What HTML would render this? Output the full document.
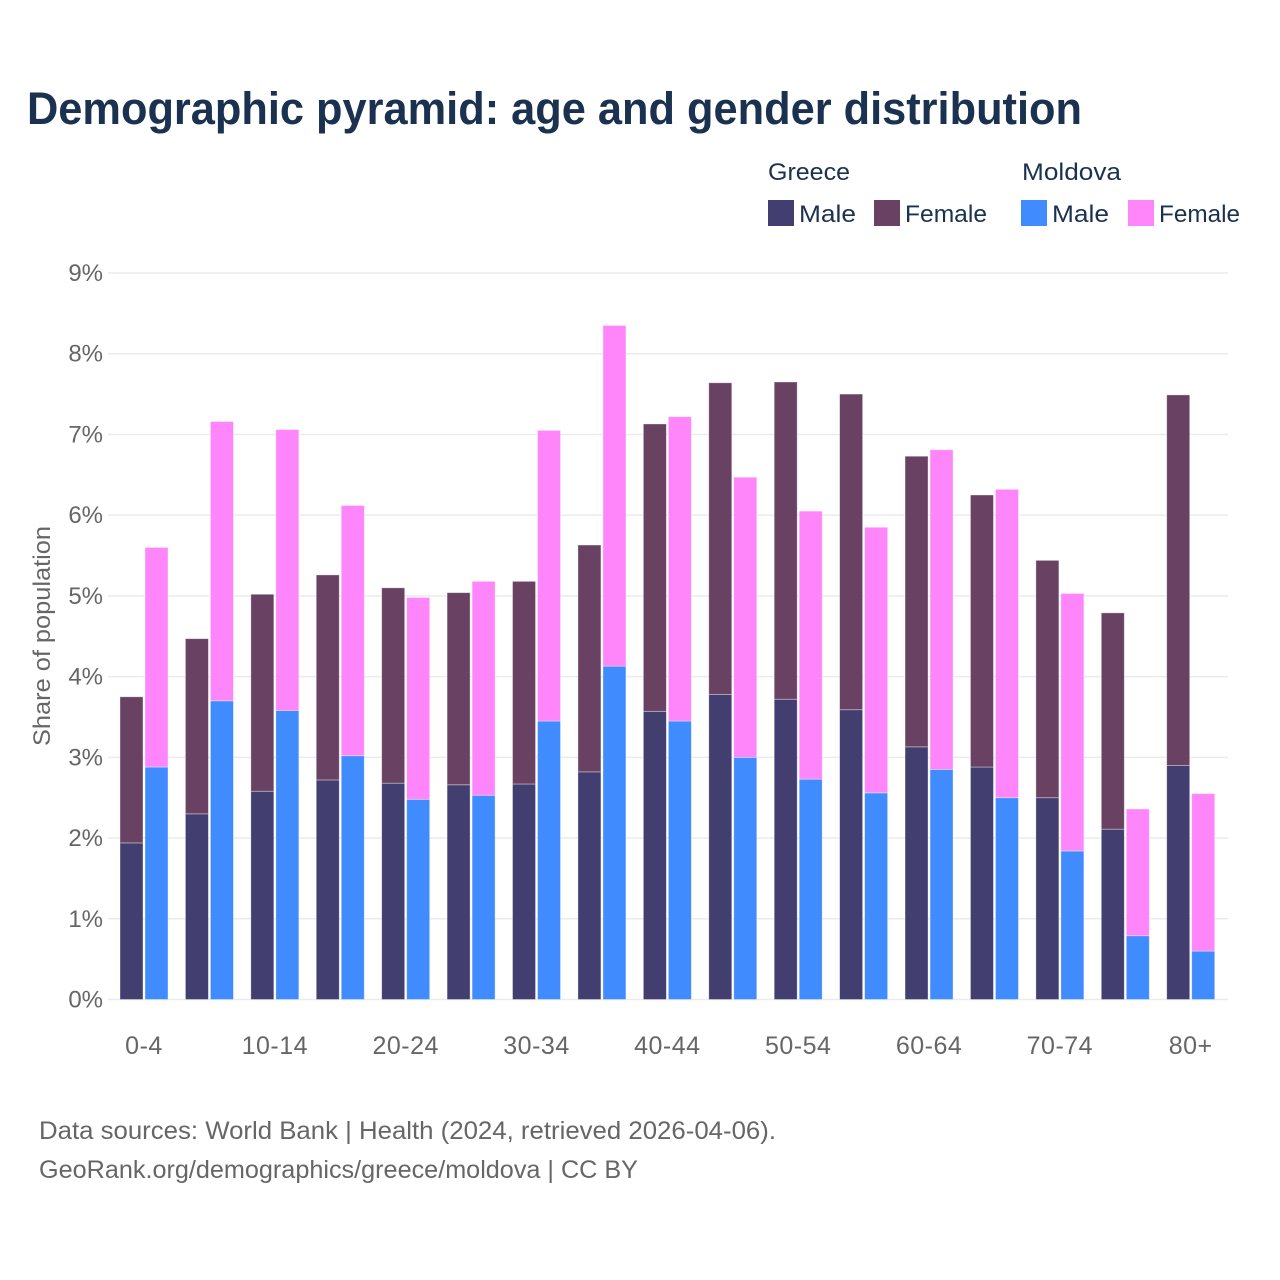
<!DOCTYPE html>
<html lang="en">
<head>
<meta charset="utf-8">
<title>Demographic pyramid: age and gender distribution</title>
<style>
  html, body { margin: 0; padding: 0; background: #fff; }
  svg { display: block; }
  text { font-family: "Liberation Sans", sans-serif; }
</style>
</head>
<body>
<svg id="chart" width="1280" height="1280" viewBox="0 0 1280 1280" xmlns="http://www.w3.org/2000/svg">
  <rect width="1280" height="1280" fill="#ffffff"/>
  <text x="27" y="124" font-size="45" font-weight="700" fill="#1a3150" textLength="1055" lengthAdjust="spacingAndGlyphs">Demographic pyramid: age and gender distribution</text>

  <g font-size="24" fill="#1a3150">
    <text x="768" y="180" textLength="82" lengthAdjust="spacingAndGlyphs">Greece</text>
    <text x="1022" y="180" textLength="99" lengthAdjust="spacingAndGlyphs">Moldova</text>
    <rect x="768" y="200" width="26" height="26" fill="#423f70"/>
    <text x="799" y="222" textLength="57" lengthAdjust="spacingAndGlyphs">Male</text>
    <rect x="874" y="200" width="26" height="26" fill="#694263"/>
    <text x="905" y="222" textLength="82" lengthAdjust="spacingAndGlyphs">Female</text>
    <rect x="1021" y="200" width="26" height="26" fill="#408cff"/>
    <text x="1052" y="222" textLength="57" lengthAdjust="spacingAndGlyphs">Male</text>
    <rect x="1128" y="200" width="26" height="26" fill="#ff85fa"/>
    <text x="1159" y="222" textLength="81" lengthAdjust="spacingAndGlyphs">Female</text>
  </g>

  <g id="grid"></g>
  <g id="y-ticks"></g>
  <g id="bars"></g>
  <g id="x-ticks"></g>

  <text transform="translate(50,636) rotate(-90)" text-anchor="middle" font-size="24" fill="#666666" textLength="220" lengthAdjust="spacingAndGlyphs">Share of population</text>

  <text x="39" y="1139" font-size="25" fill="#666666" textLength="737" lengthAdjust="spacingAndGlyphs">Data sources: World Bank | Health (2024, retrieved 2026-04-06).</text>
  <text x="39" y="1178" font-size="25" fill="#666666" textLength="599" lengthAdjust="spacingAndGlyphs">GeoRank.org/demographics/greece/moldova | CC BY</text>
</svg>
<script>
const categories = ["0-4","5-9","10-14","15-19","20-24","25-29","30-34","35-39","40-44","45-49","50-54","55-59","60-64","65-69","70-74","75-79","80+"];
const greeceMale = [1.94,2.30,2.58,2.72,2.68,2.66,2.67,2.82,3.57,3.78,3.72,3.59,3.13,2.88,2.50,2.11,2.90];
const greeceFemale = [1.81,2.17,2.44,2.54,2.42,2.38,2.51,2.81,3.56,3.86,3.93,3.91,3.60,3.37,2.94,2.68,4.59];
const moldovaMale = [2.88,3.70,3.58,3.02,2.48,2.53,3.45,4.13,3.45,3.00,2.73,2.56,2.85,2.50,1.84,0.79,0.60];
const moldovaFemale = [2.72,3.46,3.48,3.10,2.50,2.65,3.60,4.22,3.77,3.47,3.32,3.29,3.96,3.82,3.19,1.57,1.95];
const yTickValues = [0,1,2,3,4,5,6,7,8,9];
const yTickLabels = ["0%","1%","2%","3%","4%","5%","6%","7%","8%","9%"];
const xTickLabels = ["0-4","10-14","20-24","30-34","40-44","50-54","60-64","70-74","80+"];

const SVG_NS = "http://www.w3.org/2000/svg";
const PLOT_LEFT = 108, PLOT_RIGHT = 1228, Y_ZERO = 999.5, Y_NINE = 273;
const FIRST_CENTER = 144, STEP = 65.42, BAR_W = 23, BAR_GAP = 2;

function yScale(v) { return Y_ZERO - v * (Y_ZERO - Y_NINE) / 9; }
function xCenter(i) { return FIRST_CENTER + i * STEP; }

const gridG = document.getElementById("grid");
const yTicksG = document.getElementById("y-ticks");
const xTicksG = document.getElementById("x-ticks");
const barsG = document.getElementById("bars");

function make(tag, attrs, parent) {
  const el = document.createElementNS(SVG_NS, tag);
  for (const k in attrs) el.setAttribute(k, attrs[k]);
  parent.appendChild(el);
  return el;
}

yTickValues.forEach(function (v, i) {
  const line = make("line", { x1: PLOT_LEFT, x2: PLOT_RIGHT, y1: yScale(v), y2: yScale(v), stroke: "#ebebeb", "stroke-width": 1.5 }, gridG);
  
  
  const t = make("text", { x: 103, y: yScale(v) + 8, "text-anchor": "end", "font-size": 24, fill: "#666666" }, yTicksG);
  t.textContent = yTickLabels[i];
  
  
});

xTickLabels.forEach(function (label) {
  const idx = categories.indexOf(label);
  const t = make("text", { x: xCenter(idx), y: 1054, "text-anchor": "middle", "font-size": 25, "letter-spacing": 0.5, fill: "#666666" }, xTicksG);
  t.textContent = label;
  
  
});

function drawSegment(x, base, value, fill) {
  const yTop = yScale(base + value);
  const r = make("rect", { x: x, y: yTop, width: BAR_W, height: yScale(base) - yTop, fill: fill, stroke: "#ffffff", "stroke-opacity": 0.45, "stroke-width": 0.8 }, barsG);
  return r;
}

categories.forEach(function (cat, i) {
  const c = xCenter(i);
  const xG = c - BAR_W - BAR_GAP / 2;
  const xM = c + BAR_GAP / 2;

  const gm = drawSegment(xG, 0, greeceMale[i], "#423f70");
  
  

  const gf = drawSegment(xG, greeceMale[i], greeceFemale[i], "#694263");
  
  

  const mm = drawSegment(xM, 0, moldovaMale[i], "#408cff");
  
  

  const mf = drawSegment(xM, moldovaMale[i], moldovaFemale[i], "#ff85fa");
  
  
});
</script>
</body>
</html>
